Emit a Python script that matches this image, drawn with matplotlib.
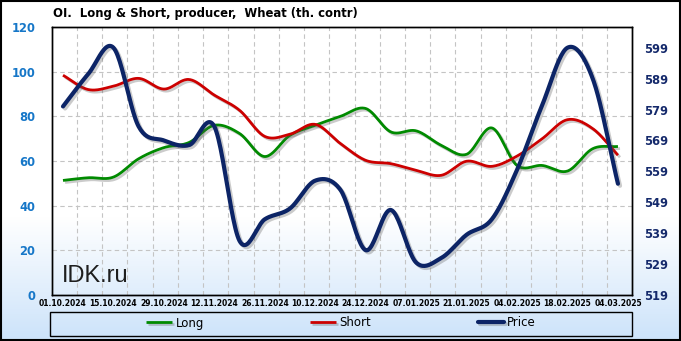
import numpy as np
import matplotlib
matplotlib.use("Agg")
import matplotlib.pyplot as plt
import matplotlib.patheffects as pe
from matplotlib.patches import Rectangle

# ---- data (weekly) ---------------------------------------------------------
DAYS = np.arange(23) * 7
LONG = [51.3, 52.5, 52.8, 61.0, 66.0, 68.3, 76.0, 72.3, 62.0, 71.5, 76.0, 80.0,
        83.5, 73.0, 73.5, 67.0, 63.0, 74.8, 58.0, 58.0, 55.5, 65.5, 66.5]
SHORT = [98.4, 92.0, 93.5, 97.0, 92.2, 96.5, 89.5, 82.7, 71.0, 72.0, 76.4, 67.8,
         60.3, 58.8, 55.8, 53.6, 59.9, 57.6, 62.2, 70.0, 78.5, 74.5, 62.6]
PRICE = [580.0, 590.5, 599.0, 573.5, 569.0, 567.5, 573.5, 536.5, 543.5, 547.0, 556.0, 553.0,
         533.5, 546.5, 529.5, 531.0, 538.5, 543.5, 559.5, 580.5, 599.0, 589.0, 555.0]
XLABELS = ["01.10.2024", "15.10.2024", "29.10.2024", "12.11.2024", "26.11.2024",
           "10.12.2024", "24.12.2024", "07.01.2025", "21.01.2025", "04.02.2025",
           "18.02.2025", "04.03.2025"]
LEFT_TICKS = [0, 20, 40, 60, 80, 100, 120]
RIGHT_TICKS = [519, 529, 539, 549, 559, 569, 579, 589, 599]

GREEN, RED, NAVY = "#008a00", "#cc0000", "#0c2466"
LBLUE, DBLUE = "#1677c8", "#14296b"
W, H = 681, 341


def smooth(x, y, n=24):
    # Catmull-Rom curve through the weekly points (chart uses smoothed lines)
    x = np.asarray(x, float); y = np.asarray(y, float)
    px = np.r_[2 * x[0] - x[1], x, 2 * x[-1] - x[-2]]
    py = np.r_[2 * y[0] - y[1], y, 2 * y[-1] - y[-2]]
    t = np.linspace(0, 1, n, endpoint=False)[:, None]
    out_x, out_y = [], []
    for i in range(1, len(px) - 2):
        for arr, res in ((px, out_x), (py, out_y)):
            p0, p1, p2, p3 = arr[i - 1], arr[i], arr[i + 1], arr[i + 2]
            res.append((0.5 * (2 * p1 + (-p0 + p2) * t + (2 * p0 - 5 * p1 + 4 * p2 - p3) * t ** 2
                               + (-p0 + 3 * p1 - 3 * p2 + p3) * t ** 3)).ravel())
    return np.r_[np.concatenate(out_x), x[-1]], np.r_[np.concatenate(out_y), y[-1]]


fig = plt.figure(figsize=(W / 100, H / 100), dpi=100)

# background gradient (white -> light blue toward the bottom)
bg = fig.add_axes([0, 0, 1, 1], zorder=-10)
g = np.clip((np.linspace(0, 1, 200) - 0.64) / 0.36, 0, 1)[:, None]
top = np.array([1.0, 1.0, 1.0]); bot = np.array([0.80, 0.89, 0.98])
img = top[None, None, :] * (1 - g[..., None]) + bot[None, None, :] * g[..., None]
bg.imshow(np.repeat(img, 2, axis=1), aspect="auto", extent=(0, 1, 0, 1))
bg.set_axis_off()

ax = fig.add_axes([52 / W, 1 - 295 / H, 580 / W, 268 / H])
ax.set_facecolor("none")
ax2 = ax.twinx()

shadow = [pe.SimpleLineShadow(offset=(1.5, -1.5), shadow_color="#555555", alpha=0.3), pe.Normal()]
sx, sy = smooth(DAYS, LONG)
ax.plot(sx, sy, color=GREEN, lw=2.0, path_effects=shadow, solid_capstyle="butt", label="Long")
sx, sy = smooth(DAYS, SHORT)
ax.plot(sx, sy, color=RED, lw=2.0, path_effects=shadow, solid_capstyle="butt", label="Short")
sx, sy = smooth(DAYS, PRICE)
ax2.plot(sx, sy, color=NAVY, lw=3.0, path_effects=shadow, solid_capstyle="round", label="Price")

ax.set_xlim(-3.05, 157.9)
ax.set_ylim(0, 120)
ax2.set_ylim(519, 605.7)

ax.set_xticks(DAYS[::2])
ax.set_xticklabels(XLABELS, fontsize=5.5, fontweight="bold")
ax.set_xticks(np.arange(3.9, 155, 7), minor=True)
ax.set_yticks(LEFT_TICKS)
ax.set_yticklabels(LEFT_TICKS, fontsize=8.3, fontweight="bold", color=LBLUE)
ax2.set_yticks(RIGHT_TICKS)
ax2.set_yticklabels(RIGHT_TICKS, fontsize=8.3, fontweight="bold", color=DBLUE)
ax.tick_params(axis="x", which="both", length=0, pad=3)
ax.tick_params(axis="y", length=0, pad=12)
ax2.tick_params(axis="y", length=0, pad=9)

ax.grid(axis="x", which="minor", color="#c4c4c4", ls=(0, (4, 3)), lw=0.8)
ax.grid(axis="y", which="major", color="#c4c4c4", ls=(0, (4, 3)), lw=0.8)
ax.grid(axis="x", which="major", visible=False)
for a in (ax, ax2):
    for s in a.spines.values():
        s.set_color("black"); s.set_linewidth(1.0)

ax.text(10 / 580, 13 / 268, "IDK.ru", transform=ax.transAxes, fontsize=17,
        family="Liberation Sans", color="#1e1e1e", ha="left", va="baseline")

fig.text(53 / W, 1 - 13 / H, "OI.  Long & Short, producer,  Wheat (th. contr)",
         fontsize=8.4, fontweight="bold", ha="left", va="center")

# legend box
fig.add_artist(Rectangle((50 / W, 5 / H), 582 / W, 24 / H, transform=fig.transFigure,
                         fill=False, edgecolor="black", lw=1.0))
handles = ax.get_lines() + ax2.get_lines()
fig.legend(handles, [h.get_label() for h in handles], loc="center",
           bbox_to_anchor=(341 / W, 1 - 323 / H), ncol=3, frameon=False, fontsize=8.5,
           handlelength=2.2, handletextpad=0.3, columnspacing=9.0)

# outer border
fig.add_artist(Rectangle((1 / W, 1 / H), 679 / W, 339 / H, transform=fig.transFigure,
                         fill=False, edgecolor="black", lw=1.5))

fig.savefig("out.png", dpi=100)
